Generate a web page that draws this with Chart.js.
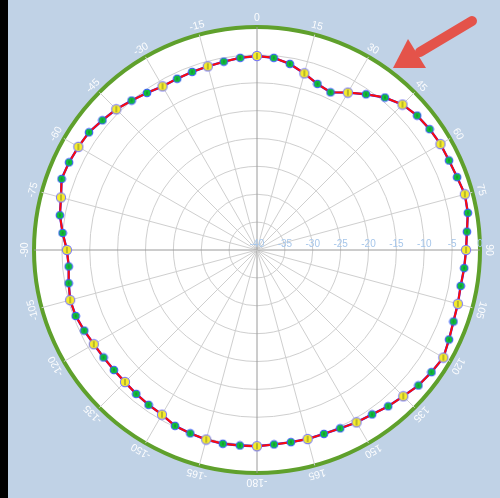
<!DOCTYPE html>
<html lang="en">
<head>
<meta charset="UTF-8">
<title>Radiation Pattern</title>
<script src="https://cdn.jsdelivr.net/npm/chart.js"></script>
<style>
    html, body { margin: 0; padding: 0; background: #c0d2e6; }
    #wrap { position: relative; width: 500px; height: 498px; overflow: hidden; }
    #edge { position: absolute; left: 0; top: 0; width: 8px; height: 498px; background: #000; }
    canvas#polarChart { display: block; }
</style>
</head>
<body>
<div id="wrap">
    <canvas id="polarChart" width="500" height="498"></canvas>
    <div id="edge"></div>
</div>
<script>
// angles (deg, clockwise from top), one sample every 5 degrees
const angles = [0, 5, 10, 15, 20, 25, 30, 35, 40, 45, 50, 55, 60, 65, 70, 75, 80, 85,
    90, 95, 100, 105, 110, 115, 120, 125, 130, 135, 140, 145, 150, 155, 160, 165, 170, 175,
    -180, -175, -170, -165, -160, -155, -150, -145, -140, -135, -130, -125, -120, -115, -110, -105, -100, -95,
    -90, -85, -80, -75, -70, -65, -60, -55, -50, -45, -40, -35, -30, -25, -20, -15, -10, -5];

// measured gain (dB)
const gain = [-5.2, -5.4, -6.1, -7.2, -8.3, -8.8, -7.4, -5.9, -4.3, -3.1, -2.5, -2.2, -2.0, -2.0, -1.8, -1.4, -1.6, -2.2,
    -2.5, -2.7, -2.9, -2.7, -2.5, -2.0, -1.4, -1.8, -2.2, -2.9, -3.4, -4.0, -4.3, -4.7, -4.9, -4.9, -5.0, -5.0,
    -4.8, -4.8, -4.7, -4.8, -5.0, -5.2, -5.9, -6.1, -6.3, -6.5, -6.5, -6.4, -6.2, -5.8, -5.4, -5.3, -5.7, -6.1,
    -5.9, -5.0, -4.1, -3.6, -2.7, -2.8, -3.0, -3.2, -3.8, -4.3, -5.0, -5.6, -6.1, -6.1, -6.0, -5.9, -5.7, -5.4];

const rMin = -40;
const rMax = 0;
const rStep = 5;
const labelStep = 15;

// marker images
function makeMarker(size, rad, fill, stroke, bar) {
    const c = document.createElement('canvas');
    c.width = size; c.height = size;
    const g = c.getContext('2d');
    const m = size / 2;
    g.beginPath();
    g.arc(m, m, rad, 0, Math.PI * 2);
    g.fillStyle = fill;
    g.fill();
    g.lineWidth = 1.1;
    g.strokeStyle = stroke;
    g.stroke();
    g.beginPath();
    g.moveTo(m, m - bar);
    g.lineTo(m, m + bar);
    g.lineWidth = 1;
    g.strokeStyle = 'rgba(40,60,40,0.6)';
    g.stroke();
    return c;
}
const yellowDot = makeMarker(12, 4.6, '#f6ec2c', '#7c7cf4', 3);
const greenDot = makeMarker(10, 3.8, '#10c03a', '#3a58ff', 1.5);

// rotated angle labels, horizontal radial tick labels, the arrow
const overlay = {
    id: 'overlay',
    afterDraw(chart) {
        const ctx = chart.ctx;
        const sc = chart.scales.r;
        ctx.save();
        ctx.font = '10px "Liberation Sans", Arial, sans-serif';
        ctx.textAlign = 'center';
        ctx.textBaseline = 'middle';

        ctx.fillStyle = '#a6c6ea';
        sc.ticks.forEach(t => {
            const d = sc.getDistanceFromCenterForValue(t.value);
            ctx.fillText(String(t.value), sc.xCenter + d, sc.yCenter - 6);
        });

        ctx.font = '10.5px "Liberation Sans", Arial, sans-serif';
        ctx.fillStyle = 'rgba(255,255,255,0.95)';
        angles.forEach((a, i) => {
            if (a % labelStep !== 0) return;
            const p = sc.getPointPosition(i, sc.drawingArea + 9);
            ctx.save();
            ctx.translate(p.x, p.y);
            ctx.rotate(a * Math.PI / 180);
            ctx.fillText(String(a), 0, 0);
            ctx.restore();
        });

        // red arrow
        ctx.strokeStyle = '#e4534a';
        ctx.fillStyle = '#e4534a';
        ctx.lineWidth = 10;
        ctx.lineCap = 'round';
        ctx.beginPath();
        ctx.moveTo(472, 21);
        ctx.lineTo(420, 52);
        ctx.stroke();
        ctx.beginPath();
        ctx.moveTo(393, 68);
        ctx.lineTo(408, 39);
        ctx.lineTo(426, 68);
        ctx.closePath();
        ctx.fill();
        ctx.restore();
    }
};

const ctx = document.getElementById('polarChart').getContext('2d');
new Chart(ctx, {
    type: 'radar',
    data: {
        labels: angles,
        datasets: [{
            label: 'Gain',
            data: gain,
            borderColor: '#ff0a0a',
            borderWidth: 2,
            fill: false,
            tension: 0,
            pointRadius: 4,
            pointStyle: c => (angles[c.dataIndex] % labelStep === 0 ? yellowDot : greenDot)
        }, {
            label: 'Gain outline',
            data: gain,
            borderColor: '#2a2aff',
            borderWidth: 2.4,
            fill: false,
            tension: 0,
            pointRadius: 0
        }]
    },
    options: {
        responsive: false,
        animation: false,
        layout: {
            padding: { left: 34, right: 20, top: 27, bottom: 25 }
        },
        scales: {
            r: {
                min: rMin,
                max: rMax,
                backgroundColor: '#ffffff',
                ticks: { stepSize: rStep, display: false },
                pointLabels: { display: false },
                grid: {
                    circular: true,
                    color: c => (c.tick && c.tick.value === rMax ? '#5fa02c' : '#cfcfcf'),
                    lineWidth: c => (c.tick && c.tick.value === rMax ? 4 : 1)
                },
                angleLines: {
                    color: c => (angles[c.index] % 90 === 0 ? '#9a9a9a' : '#cfcfcf'),
                    lineWidth: c => (angles[c.index] % labelStep === 0 ? 1 : 0)
                }
            }
        },
        plugins: {
            legend: { display: false },
            tooltip: { enabled: false }
        }
    },
    plugins: [overlay]
});
</script>
</body>
</html>
